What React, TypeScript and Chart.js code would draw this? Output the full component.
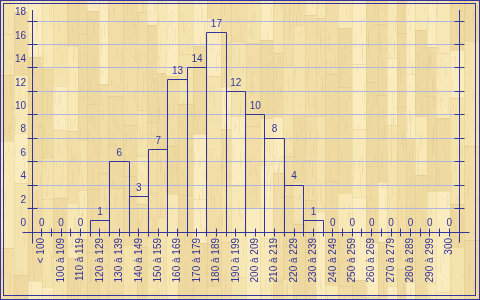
import { useEffect, useRef } from 'react';
import { Chart, registerables } from 'chart.js';
Chart.register(...registerables);

const categories = ['< 100', '100 à 109', '110 à 119', '120 à 129', '130 à 139', '140 à 149', '150 à 159', '160 à 169', '170 à 179', '180 à 189', '190 à 199', '200 à 209', '210 à 219', '220 à 229', '230 à 239', '240 à 249', '250 à 259', '260 à 269', '270 à 279', '280 à 289', '290 à 299', '300'];
const counts = [0, 0, 0, 1, 6, 3, 7, 13, 14, 17, 12, 10, 8, 4, 1, 0, 0, 0, 0, 0, 0, 0];
const yMax = 18;
const yStep = 2;

const BLUE = '#34349e';
const GRID = '#b1b4de';
const FAMILY = '"Liberation Sans", Arial, sans-serif';
const FONT = { family: FAMILY, size: 10 };

function hash(n: number) {
  let x = Math.imul(n + 12345, 2654435761) >>> 0;
  x ^= x >>> 15;
  x = Math.imul(x, 2246822519) >>> 0;
  x ^= x >>> 13;
  x = Math.imul(x, 3266489917) >>> 0;
  x ^= x >>> 16;
  return (x >>> 0) / 4294967296;
}

const align = (p: number) => Math.round(p - 0.5) + 0.5;

const woodPlugin = {
  id: 'wood',
  beforeDraw(chart: any) {
    const { ctx, width, height } = chart;
    ctx.save();
    ctx.fillStyle = '#f3e1ab';
    ctx.fillRect(0, 0, width, height);
    const palette = ['#f8e8b5', '#f1dda5', '#eed9a0', '#f5e3ae', '#efdaa2', '#faecbf'];
    let x = 0;
    let col = 0;
    while (x < width) {
      const w = 9 + Math.floor(hash(col * 7 + 1) * 7);
      let y = -Math.floor(hash(col * 13 + 5) * 60);
      let seg = 0;
      while (y < height) {
        const h = 40 + Math.floor(hash(col * 101 + seg * 17 + 3) * 70);
        ctx.fillStyle = palette[Math.floor(hash(col * 31 + seg * 7 + 11) * palette.length)];
        ctx.fillRect(x, y, w, h);
        ctx.fillStyle = 'rgba(200,170,100,0.2)';
        ctx.fillRect(x, y, w, 1);
        for (let k = 0; k < 8; k++) {
          const gx = x + 1 + Math.floor(hash(col * 997 + seg * 53 + k * 7) * (w - 2));
          const gy = y + Math.floor(hash(col * 577 + seg * 91 + k * 13) * h);
          const gl = 3 + Math.floor(hash(col * 311 + seg * 29 + k) * 16);
          ctx.fillStyle = 'rgba(205,175,110,0.14)';
          ctx.fillRect(gx, gy, 1, gl);
        }
        y += h;
        seg++;
      }
      ctx.fillStyle = 'rgba(200,170,100,0.18)';
      ctx.fillRect(x, 0, 1, height);
      x += w;
      col++;
    }
    ctx.restore();
  },
};

const decoPlugin = {
  id: 'deco',
  beforeDatasetsDraw(chart: any) {
    const { ctx, chartArea: a, scales } = chart;
    const ys = scales.y;
    ctx.save();
    ctx.strokeStyle = GRID;
    ctx.lineWidth = 1;
    ctx.beginPath();
    for (let v = yStep; v <= yMax; v += yStep) {
      const py = align(ys.getPixelForValue(v));
      ctx.moveTo(a.left, py);
      ctx.lineTo(a.right, py);
    }
    ctx.stroke();
    ctx.restore();
  },
  afterDatasetsDraw(chart: any) {
    const { ctx } = chart;
    const meta = chart.getDatasetMeta(0);
    ctx.save();
    ctx.strokeStyle = BLUE;
    ctx.lineWidth = 1;
    meta.data.forEach((bar: any, i: number) => {
      if (!counts[i]) return;
      const { x, y, base, width } = bar.getProps(['x', 'y', 'base', 'width'], true);
      const l = align(x - width / 2);
      const r = align(x + width / 2);
      const t = align(y);
      const b = align(base);
      ctx.beginPath();
      ctx.moveTo(l, b);
      ctx.lineTo(l, t);
      ctx.lineTo(r, t);
      ctx.lineTo(r, b);
      ctx.stroke();
    });
    ctx.fillStyle = BLUE;
    ctx.font = '10px ' + FAMILY;
    ctx.textAlign = 'center';
    ctx.textBaseline = 'middle';
    meta.data.forEach((bar: any, i: number) => {
      ctx.fillText(String(counts[i]), bar.x, bar.y - 8.5);
    });
    ctx.restore();
  },
  afterDraw(chart: any) {
    const { ctx, chartArea: a, scales, width, height } = chart;
    const xs = scales.x;
    const ys = scales.y;
    ctx.save();
    ctx.strokeStyle = BLUE;
    ctx.lineWidth = 1;
    const L = align(a.left);
    const R = align(a.right);
    const B = align(a.bottom);
    const T = Math.round(a.top) - 11;
    ctx.beginPath();
    ctx.moveTo(L, T);
    ctx.lineTo(L, B + 11);
    ctx.moveTo(R, T);
    ctx.lineTo(R, B + 10);
    ctx.moveTo(L - 10, B);
    ctx.lineTo(R + 10, B);
    for (let v = yStep; v <= yMax; v += yStep) {
      const py = align(ys.getPixelForValue(v));
      ctx.moveTo(L - 5, py);
      ctx.lineTo(L + 5, py);
      ctx.moveTo(R - 5, py);
      ctx.lineTo(R + 5, py);
    }
    const half = (xs.getPixelForValue(1) - xs.getPixelForValue(0)) / 2;
    categories.forEach((_, i) => {
      const c = xs.getPixelForValue(i);
      const pts = i < categories.length - 1 ? [c, c + half] : [c];
      pts.forEach((px) => {
        const p = align(px);
        ctx.moveTo(p, B - 4);
        ctx.lineTo(p, B + 4);
      });
    });
    ctx.stroke();
    ctx.strokeRect(0.5, 0.5, width - 1, height - 1);
    ctx.strokeRect(3.5, 3.5, width - 8, height - 8);
    ctx.restore();
  },
};

export default function App() {
  const ref = useRef<HTMLCanvasElement>(null);
  useEffect(() => {
    if (!ref.current) return;
    const chart = new Chart(ref.current, {
      type: 'bar',
      data: {
        labels: categories,
        datasets: [
          {
            data: counts,
            backgroundColor: 'rgba(0,0,0,0)',
            borderWidth: 0,
            barPercentage: 1,
            categoryPercentage: 1,
          },
        ],
      },
      options: {
        animation: false,
        responsive: false,
        maintainAspectRatio: false,
        layout: { padding: { top: 21, right: 21, left: 0, bottom: 0 } },
        plugins: { legend: { display: false }, tooltip: { enabled: false }, title: { display: false } },
        scales: {
          x: {
            type: 'category',
            offset: true,
            grid: { display: false, drawTicks: false },
            border: { display: false },
            ticks: { autoSkip: false, minRotation: 90, maxRotation: 90, padding: 6, color: BLUE, font: FONT },
            afterFit(s: any) {
              s.height = 68;
            },
          },
          y: {
            min: 0,
            max: yMax,
            grid: { display: false, drawTicks: false },
            border: { display: false },
            ticks: { stepSize: yStep, padding: 6, labelOffset: -8.5, color: BLUE, font: FONT },
            afterFit(s: any) {
              s.width = 32;
            },
          },
        },
      },
      plugins: [woodPlugin, decoPlugin],
    } as any);
    return () => chart.destroy();
  }, []);
  return (
    <div style={{ position: 'absolute', left: 0, top: 0, width: 480, height: 300 }}>
      <canvas ref={ref} width={480} height={300} style={{ display: 'block' }} />
    </div>
  );
}
